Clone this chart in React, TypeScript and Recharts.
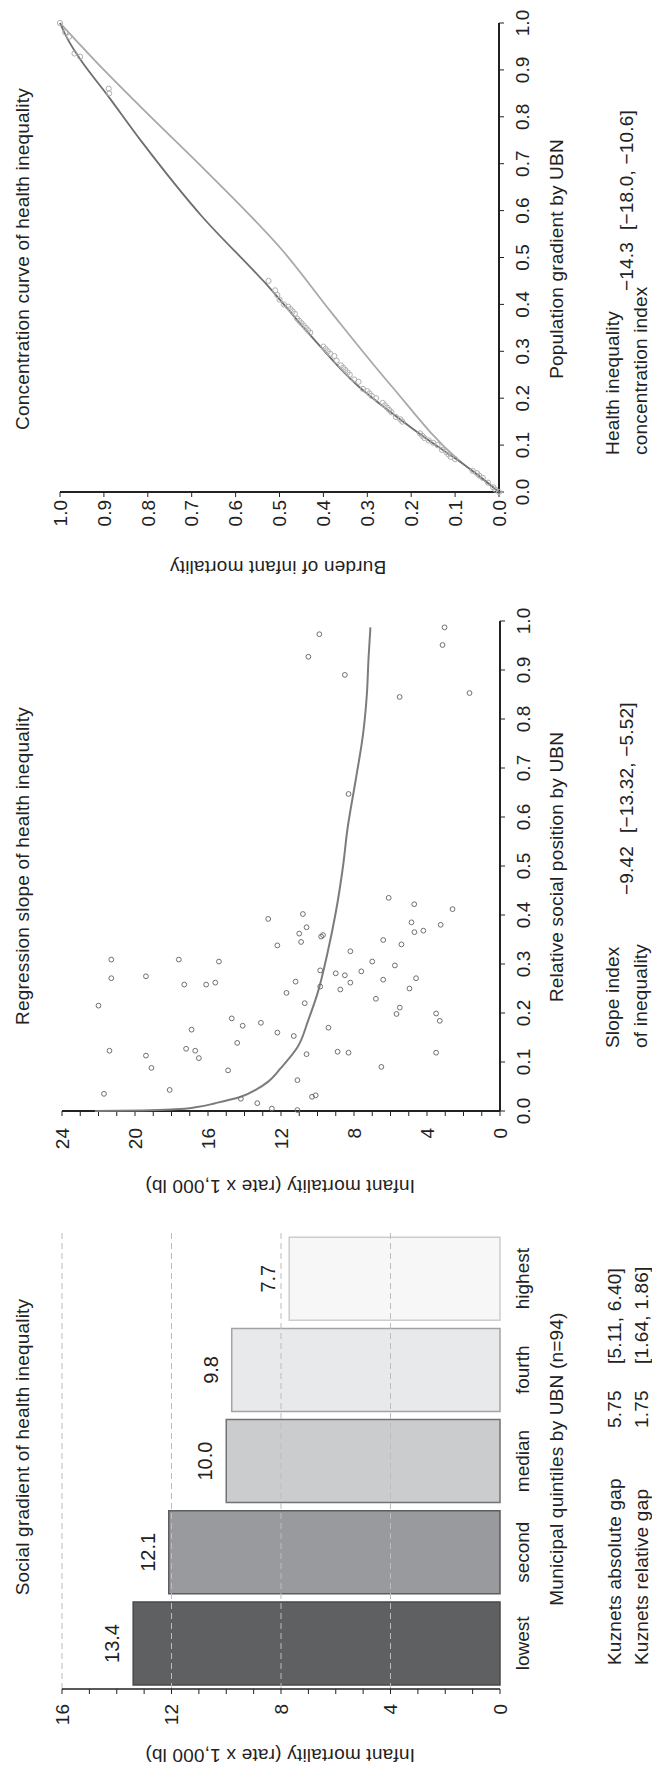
import React from "react";
import {
  BarChart, Bar, Cell, XAxis, YAxis, ReferenceLine, LabelList,
  ScatterChart, Scatter,
} from "recharts";

const FONT = "'Liberation Sans', Arial, sans-serif";
const INK = "#222";
const FRAME = "#cbcbcb";

// social gradient (quintile bars)
const quintiles = ["lowest", "second", "median", "fourth", "highest"];
const quintileRates = [13.4, 12.1, 10.0, 9.8, 7.7];
const quintileMids = [0.5, 1.5, 2.5, 3.5, 4.5];
const barFills = ["#5f6062", "#999a9d", "#cbccce", "#e8e9eb", "#f7f7f7"];
const barStrokes = ["#48484a", "#5c5c5e", "#727274", "#a3a3a5", "#cdcdcd"];
const quintileEdges = [0, 1, 2, 3, 4, 5];
const rateTicks16 = [0, 1, 2, 3, 4, 5, 6, 7, 8, 9, 10, 11, 12, 13, 14, 15, 16];
const gridRates = [4, 8, 12, 16];

// regression slope
const rateTicks24 = [0, 1, 2, 3, 4, 5, 6, 7, 8, 9, 10, 11, 12, 13, 14, 15, 16, 17, 18, 19, 20, 21, 22, 23, 24];
const positionTicks = [0, 0.1, 0.2, 0.3, 0.4, 0.5, 0.6, 0.7, 0.8, 0.9, 1.0];
const slopePoints: [number, number][] = [
  [0.035, 21.7], [0.215, 22.0], [0.123, 21.4], [0.309, 21.3], [0.271, 21.3], [0.275, 19.4],
  [0.113, 19.4], [0.088, 19.1], [0.043, 18.1], [0.309, 17.6], [0.258, 17.3], [0.127, 17.2],
  [0.166, 16.9], [0.123, 16.7], [0.108, 16.5], [0.258, 16.1], [0.262, 15.6], [0.305, 15.4],
  [0.083, 14.9], [0.189, 14.7], [0.139, 14.4], [0.025, 14.2], [0.174, 14.1], [0.016, 13.3],
  [0.18, 13.1], [0.392, 12.7], [0.005, 12.5], [0.338, 12.2], [0.16, 12.2], [0.241, 11.7],
  [0.153, 11.3], [0.264, 11.2], [0.063, 11.1], [0.002, 11.1], [0.362, 11.0], [0.345, 10.9],
  [0.402, 10.8], [0.22, 10.7], [0.116, 10.6], [0.375, 10.6], [0.927, 10.5], [0.029, 10.3],
  [0.032, 10.1], [0.973, 9.9], [0.287, 9.85], [0.254, 9.85], [0.356, 9.8], [0.359, 9.7],
  [0.17, 9.4], [0.281, 9.0], [0.121, 8.9], [0.248, 8.75], [0.89, 8.5], [0.277, 8.5],
  [0.647, 8.3], [0.119, 8.3], [0.326, 8.2], [0.262, 8.2], [0.285, 7.6], [0.305, 7.0],
  [0.229, 6.8], [0.09, 6.5], [0.349, 6.4], [0.268, 6.4], [0.435, 6.1], [0.297, 5.76],
  [0.198, 5.67], [0.845, 5.5], [0.211, 5.49], [0.34, 5.4], [0.25, 4.96], [0.385, 4.85],
  [0.422, 4.7], [0.365, 4.69], [0.271, 4.6], [0.368, 4.2], [0.199, 3.5], [0.119, 3.5],
  [0.184, 3.3], [0.38, 3.25], [0.951, 3.15], [0.987, 3.04], [0.412, 2.6], [0.853, 1.67],
];
const slopeFit: [number, number][] = [
  [0, 22.2], [0.001, 19.6], [0.0034, 17.8], [0.008, 16.6], [0.016, 15.6], [0.029, 14.2],
  [0.045, 13.3], [0.06, 12.7], [0.088, 12.0], [0.13, 11.1], [0.186, 10.5], [0.24, 10.0],
  [0.323, 9.45], [0.405, 9.0], [0.5, 8.6], [0.575, 8.36], [0.677, 7.9], [0.77, 7.5],
  [0.848, 7.3], [0.926, 7.2], [0.987, 7.1],
];

// concentration curve
const shareTicks = [0, 0.1, 0.2, 0.3, 0.4, 0.5, 0.6, 0.7, 0.8, 0.9, 1.0];
const concentrationCurve: [number, number][] = [
  [0, 0], [0.042, 0.056], [0.127, 0.185], [0.226, 0.321], [0.34, 0.435], [0.439, 0.526],
  [0.588, 0.677], [0.747, 0.814], [0.85, 0.895], [0.92, 0.952], [0.97, 0.985], [1, 1],
];
const equalityLine: [number, number][] = [
  [0, 0], [0.07, 0.094], [0.226, 0.245], [0.383, 0.382], [0.517, 0.495], [0.687, 0.67],
  [0.819, 0.814], [0.9, 0.9], [1, 1],
];
const concentrationPoints: [number, number][] = [
  [0.0, 0.0], [0.005, 0.008], [0.01, 0.013], [0.02, 0.025], [0.03, 0.037], [0.035, 0.045],
  [0.04, 0.05], [0.045, 0.06], [0.07, 0.1], [0.075, 0.11], [0.08, 0.115], [0.085, 0.12],
  [0.09, 0.13], [0.1, 0.14], [0.105, 0.15], [0.11, 0.16], [0.115, 0.17], [0.12, 0.175],
  [0.125, 0.18], [0.15, 0.22], [0.155, 0.225], [0.16, 0.235], [0.17, 0.245], [0.175, 0.25],
  [0.18, 0.255], [0.185, 0.26], [0.19, 0.265], [0.2, 0.28], [0.205, 0.29], [0.21, 0.295],
  [0.215, 0.3], [0.22, 0.31], [0.235, 0.32], [0.24, 0.33], [0.25, 0.34], [0.255, 0.345],
  [0.26, 0.35], [0.265, 0.355], [0.27, 0.36], [0.28, 0.37], [0.29, 0.375], [0.295, 0.385],
  [0.3, 0.39], [0.305, 0.395], [0.31, 0.4], [0.34, 0.43], [0.345, 0.435], [0.35, 0.44],
  [0.355, 0.445], [0.36, 0.45], [0.365, 0.455], [0.37, 0.46], [0.38, 0.465], [0.385, 0.47],
  [0.39, 0.475], [0.395, 0.48], [0.4, 0.49], [0.41, 0.5], [0.42, 0.505], [0.43, 0.51],
  [0.45, 0.525], [0.85, 0.888], [0.86, 0.889], [0.928, 0.954], [0.935, 0.967],
  [0.971, 0.979], [0.98, 0.988], [1.0, 1.0],
];

const barData = quintiles.map((q, i) => ({ name: q, rate: quintileRates[i], mid: quintileMids[i] }));
const toXY = (pts: [number, number][]) => pts.map(([x, y]) => ({ x, y }));

const tickStyle = { fontSize: 19, fill: INK, fontFamily: FONT };

// value axes carry a tick at every unit but a label only every 4
function everyFourth(props: any) {
  const { x, y, payload } = props;
  if (payload.value % 4 !== 0) return <g />;
  return (
    <text x={x} y={y} dy="0.355em" textAnchor="end" {...tickStyle}>{payload.value}</text>
  );
}

const ring = (stroke: string, r: number) => (p: any) => (
  <circle cx={p.cx} cy={p.cy} r={r} fill="none" stroke={stroke} strokeWidth={1} />
);
const noDot = () => <g />;

function Txt({ x, y, children, anchor = "middle", rotate = false }: {
  x: number; y: number; children: React.ReactNode; anchor?: "start" | "middle"; rotate?: boolean;
}) {
  const tx = anchor === "middle" ? "-50%" : "0";
  return (
    <div style={{
      position: "absolute", left: x, top: y, whiteSpace: "nowrap",
      transform: `translate(${tx}, -50%)${rotate ? " rotate(-90deg)" : ""}`,
      fontFamily: FONT, fontSize: 19, letterSpacing: 0.2, color: INK, lineHeight: 1,
    }}>{children}</div>
  );
}

function GradientBars() {
  return (
    <div style={{ position: "absolute", left: 0, top: 0 }}>
      <BarChart width={560} height={652} data={barData} barCategoryGap={4}
        margin={{ top: 62, right: 24, bottom: 122, left: 30 }}>
        <XAxis xAxisId="top" orientation="top" dataKey="name" tick={false} tickLine={false}
          axisLine={{ stroke: FRAME, strokeWidth: 1.5 }} height={0} />
        <XAxis xAxisId="edges" dataKey="mid" type="number" domain={[0, 5]} ticks={quintileEdges}
          tick={noDot} tickSize={5} tickLine={{ stroke: "#999" }}
          axisLine={{ stroke: "#999", strokeWidth: 2 }} height={0} interval={0} />
        <XAxis dataKey="name" tickLine={false} axisLine={false} tickSize={6} tickMargin={10}
          tick={tickStyle} height={30} interval={0} />
        <YAxis yAxisId="right" orientation="right" domain={[0, 16]} tick={false} tickLine={false}
          axisLine={{ stroke: FRAME, strokeWidth: 1.5 }} width={0} />
        <YAxis domain={[0, 16]} ticks={rateTicks16} tick={everyFourth} tickSize={5} tickMargin={10}
          tickLine={{ stroke: INK }} axisLine={{ stroke: INK, strokeWidth: 1.5 }} width={50} interval={0} />
        <Bar dataKey="rate" isAnimationActive={false} strokeWidth={1.5}>
          {barData.map((d, i) => (
            <Cell key={d.name} fill={barFills[i]} stroke={barStrokes[i]} />
          ))}
          <LabelList dataKey="rate" position="top" offset={14}
            formatter={(v: any) => Number(v).toFixed(1)}
            fill={INK} fontSize={20} fontFamily={FONT} />
        </Bar>
        {gridRates.map((r) => (
          <ReferenceLine key={r} y={r} stroke="#bdbdbd" strokeDasharray="6 4" />
        ))}
      </BarChart>
    </div>
  );
}

function SlopePanel() {
  return (
    <div style={{ position: "absolute", left: 570, top: 0 }}>
      <ScatterChart width={600} height={652} margin={{ top: 62, right: 22, bottom: 122, left: 38 }}>
        <XAxis xAxisId="top" orientation="top" type="number" dataKey="x" domain={[0, 1]}
          tick={false} tickLine={false} axisLine={{ stroke: FRAME, strokeWidth: 1.5 }} height={0} />
        <YAxis yAxisId="right" orientation="right" type="number" dataKey="y" domain={[0, 24]}
          tick={false} tickLine={false} axisLine={{ stroke: FRAME, strokeWidth: 1.5 }} width={0} />
        <XAxis type="number" dataKey="x" domain={[0, 1]} ticks={positionTicks} interval={0}
          tickFormatter={(v: number) => v.toFixed(1)} tick={tickStyle} tickSize={5} tickMargin={12}
          tickLine={{ stroke: INK }} axisLine={{ stroke: INK, strokeWidth: 2 }} height={30} />
        <YAxis type="number" dataKey="y" domain={[0, 24]} ticks={rateTicks24} interval={0}
          tick={everyFourth} tickSize={5} tickMargin={12}
          tickLine={{ stroke: INK }} axisLine={{ stroke: INK, strokeWidth: 2 }} width={50} />
        <Scatter data={toXY(slopeFit)} line={{ stroke: "#7c7c7c", strokeWidth: 2 }}
          lineJointType="monotoneX" shape={noDot} isAnimationActive={false} />
        <Scatter data={toXY(slopePoints)} shape={ring("#6f6f6f", 2.4)} isAnimationActive={false} />
      </ScatterChart>
    </div>
  );
}

function ConcentrationPanel() {
  return (
    <div style={{ position: "absolute", left: 1190, top: 0 }}>
      <ScatterChart width={579} height={652} margin={{ top: 60, right: 23, bottom: 123, left: 37 }}>
        <XAxis xAxisId="top" orientation="top" type="number" dataKey="x" domain={[0, 1]}
          tick={false} tickLine={false} axisLine={{ stroke: FRAME, strokeWidth: 1.5 }} height={0} />
        <YAxis yAxisId="right" orientation="right" type="number" dataKey="y" domain={[0, 1]}
          tick={false} tickLine={false} axisLine={{ stroke: FRAME, strokeWidth: 1.5 }} width={0} />
        <XAxis type="number" dataKey="x" domain={[0, 1]} ticks={shareTicks} interval={0}
          tickFormatter={(v: number) => v.toFixed(1)} tick={tickStyle} tickSize={5} tickMargin={12}
          tickLine={{ stroke: INK }} axisLine={{ stroke: INK, strokeWidth: 2 }} height={30} />
        <YAxis type="number" dataKey="y" domain={[0, 1]} ticks={shareTicks} interval={0}
          tickFormatter={(v: number) => v.toFixed(1)} tick={tickStyle} tickSize={5} tickMargin={3}
          tickLine={{ stroke: INK }} axisLine={{ stroke: INK, strokeWidth: 2 }} width={50} />
        <Scatter data={toXY(equalityLine)} line={{ stroke: "#a9a9a9", strokeWidth: 1.8 }}
          lineJointType="monotoneX" shape={noDot} isAnimationActive={false} />
        <Scatter data={toXY(concentrationCurve)} line={{ stroke: "#6e6e6e", strokeWidth: 1.8 }}
          lineJointType="monotoneX" shape={noDot} isAnimationActive={false} />
        <Scatter data={toXY(concentrationPoints)} shape={ring("#b0b0b0", 2.6)} isAnimationActive={false} />
      </ScatterChart>
    </div>
  );
}

export default function App() {
  return (
    <div style={{
      position: "absolute", left: 0, top: 0, width: 652, height: 1769,
      overflow: "hidden", background: "#fff",
    }}>
      {/* the figure is laid out in landscape and turned a quarter counter-clockwise */}
      <div style={{
        position: "absolute", left: 0, top: 0, width: 1769, height: 652,
        transformOrigin: "0 0", transform: "translateY(1769px) rotate(-90deg)",
      }}>
        <GradientBars />
        <SlopePanel />
        <ConcentrationPanel />

        <Txt x={322} y={22}>Social gradient of health inequality</Txt>
        <Txt x={14} y={280} rotate>Infant mortality (rate x 1,000 lb)</Txt>
        <Txt x={310} y={556}>Municipal quintiles by UBN (n=94)</Txt>
        <Txt x={104} y={614} anchor="start">Kuznets absolute gap</Txt>
        <Txt x={341} y={614} anchor="start">5.75</Txt>
        <Txt x={405} y={614} anchor="start">[5.11, 6.40]</Txt>
        <Txt x={104} y={641} anchor="start">Kuznets relative gap</Txt>
        <Txt x={341} y={641} anchor="start">1.75</Txt>
        <Txt x={405} y={641} anchor="start">[1.64, 1.86]</Txt>

        <Txt x={903} y={22}>Regression slope of health inequality</Txt>
        <Txt x={583} y={280} rotate>Infant mortality (rate x 1,000 lb)</Txt>
        <Txt x={902} y={556}>Relative social position by UBN</Txt>
        <Txt x={721} y={612} anchor="start">Slope index</Txt>
        <Txt x={721} y={640} anchor="start">of inequality</Txt>
        <Txt x={874} y={626} anchor="start">−9.42</Txt>
        <Txt x={936} y={626} anchor="start">[−13.32, −5.52]</Txt>

        <Txt x={1510} y={22}>Concentration curve of health inequality</Txt>
        <Txt x={1202} y={278} rotate>Burden of infant mortality</Txt>
        <Txt x={1510} y={556}>Population gradient by UBN</Txt>
        <Txt x={1314} y={612} anchor="start">Health inequality</Txt>
        <Txt x={1314} y={640} anchor="start">concentration index</Txt>
        <Txt x={1478} y={626} anchor="start">−14.3</Txt>
        <Txt x={1539} y={626} anchor="start">[−18.0, −10.6]</Txt>
      </div>
    </div>
  );
}
